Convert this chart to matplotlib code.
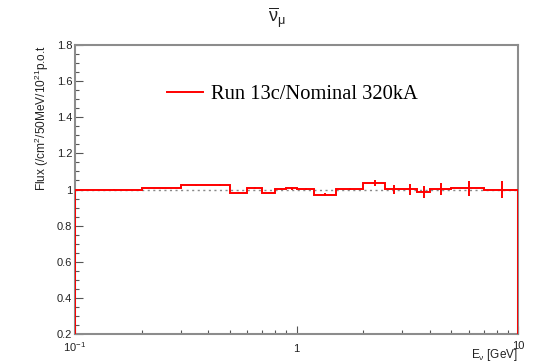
import numpy as np
import matplotlib
matplotlib.use("Agg")
import matplotlib.pyplot as plt
from matplotlib.lines import Line2D
from matplotlib.transforms import ScaledTranslation
from matplotlib.ticker import FixedLocator, MultipleLocator, NullFormatter

plt.rcParams["font.family"] = ["Liberation Sans", "DejaVu Sans"]
plt.rcParams["mathtext.fontset"] = "custom"
plt.rcParams["mathtext.rm"] = "Liberation Sans"
plt.rcParams["mathtext.it"] = "Liberation Sans"
plt.rcParams["mathtext.bf"] = "Liberation Sans:bold"

# Flux ratio Run 13c / nominal 320 kA, anti-numu
bin_edges = [0.1, 0.2, 0.3, 0.4, 0.5, 0.6, 0.7, 0.8, 0.9, 1.0, 1.2, 1.5,
             2.0, 2.5, 3.0, 3.5, 4.0, 5.0, 7.0, 10.0]
ratio = [1.000, 1.006, 1.024, 1.024, 0.982, 1.009, 0.983, 1.005, 1.006,
         1.003, 0.972, 1.003, 1.036, 1.002, 1.001, 0.986, 1.001, 1.007, 1.000]
ratio_err = [0.001, 0.002, 0.003, 0.004, 0.004, 0.004, 0.004, 0.005, 0.006,
             0.007, 0.007, 0.008, 0.015, 0.025, 0.029, 0.035, 0.033, 0.042, 0.046]

x_ticks = [0.1, 1, 10]
x_tick_labels = ["10$^{-1}$", "1", "10"]
y_ticks = [0.2, 0.4, 0.6, 0.8, 1.0, 1.2, 1.4, 1.6, 1.8]
y_tick_labels = ["0.2", "0.4", "0.6", "0.8", "1", "1.2", "1.4", "1.6", "1.8"]
legend_label = "Run 13c/Nominal 320kA"

edges = np.array(bin_edges)
vals = np.array(ratio)
errs = np.array(ratio_err)
centers = 0.5 * (edges[:-1] + edges[1:])

W, H = 544, 364
fig = plt.figure(figsize=(W / 100, H / 100), dpi=100)
ax = fig.add_axes([75 / W, 1 - 334 / H, (518 - 75) / W, (334 - 45) / H])

red = "#ff0000"
ax.axhline(1.0, color="#888888", lw=1.0, ls=(0, (1.5, 2.5)), zorder=1)
ax.stairs(vals, edges, baseline=0.2, color=red, lw=1.4, zorder=3)
ax.vlines(centers, vals - errs, vals + errs, color=red, lw=1.4, zorder=3)

ax.set_xscale("log")
ax.set_xlim(0.1, 10)
ax.set_ylim(0.2, 1.8)

ax.xaxis.set_major_locator(FixedLocator(x_ticks))
ax.set_xticklabels(x_tick_labels)
ax.xaxis.set_minor_locator(FixedLocator(
    [m * d for d in (0.1, 1) for m in range(2, 10)]))
ax.xaxis.set_minor_formatter(NullFormatter())
ax.set_yticks(y_ticks)
ax.set_yticklabels(y_tick_labels)
ax.yaxis.set_minor_locator(MultipleLocator(0.05))

ax.tick_params(which="both", direction="in", top=False, right=False,
               color="#555555", width=0.8, labelsize=8, labelcolor="#222222")
ax.tick_params(which="major", length=6)
ax.tick_params(which="minor", length=3)
ax.tick_params(axis="y", pad=2)
ax.tick_params(axis="x", pad=13)
xlabels = ax.get_xticklabels()
for lab in xlabels:
    lab.set_va("baseline")
# the last decade label sits a little higher, next to the axis title
xlabels[-1].set_transform(xlabels[-1].get_transform()
                          + ScaledTranslation(0, 3 / 100, fig.dpi_scale_trans))

for s in ax.spines.values():
    s.set_color("#8c8c8c")
    s.set_linewidth(1.5)

ax.set_ylabel("Flux (/cm$^{2}$/50MeV/10$^{21}$p.o.t", fontsize=8.6,
              color="#222222", loc="top")
ax.yaxis.set_label_coords(-0.055, 1.0)
ax.set_xlabel("E$_{\\nu}$ [GeV]", fontsize=8.5, color="#222222", loc="right")
ax.xaxis.set_label_coords(1.0, -0.045)

fig.text(277 / W, 1 - 18 / H, "$\\overline{\\nu}_{\\mu}$", ha="center",
         va="center", fontsize=13, color="#222222")

handle = Line2D([], [], color=red, lw=1.4)
ax.legend([handle], [legend_label], loc="center left",
          bbox_to_anchor=(167 / W, 1 - 94 / H), bbox_transform=fig.transFigure,
          frameon=False, borderpad=0, borderaxespad=0, handlelength=1.75,
          handletextpad=0.4,
          prop={"family": "Liberation Serif", "size": 14.8})

fig.savefig("out.png", dpi=100)
